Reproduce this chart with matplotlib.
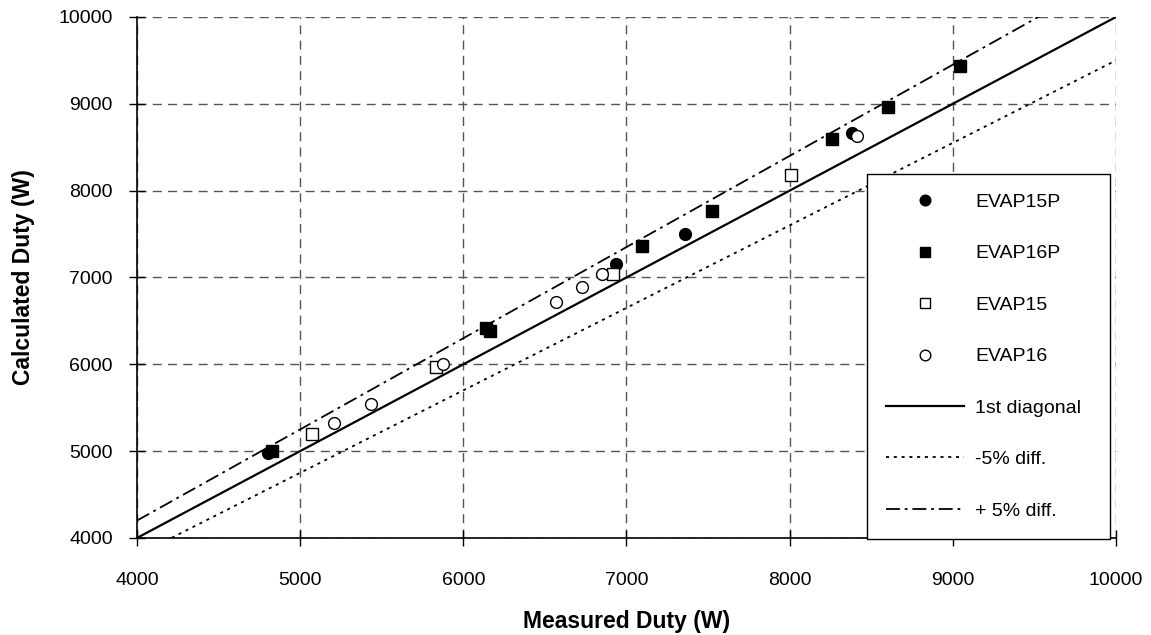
import numpy as np
import matplotlib
matplotlib.use("Agg")
import matplotlib.pyplot as plt

plt.rcParams['font.family'] = ['Liberation Sans', 'DejaVu Sans']
plt.rcParams['lines.scale_dashes'] = False

# measured vs calculated duty (W) for each evaporator run
evap15p_meas = [4800, 6935, 7360, 8380]
evap15p_calc = [4980, 7150, 7500, 8660]

evap16p_meas = [4830, 6140, 6165, 7095, 7525, 8260, 8605, 9045]
evap16p_calc = [5000, 6420, 6385, 7365, 7765, 8595, 8960, 9435]

evap15_meas = [5075, 5830, 6915, 8010]
evap15_calc = [5195, 5970, 7045, 8180]

evap16_meas = [5210, 5435, 5875, 6565, 6725, 6850, 8410]
evap16_calc = [5320, 5540, 6005, 6715, 6885, 7035, 8630]

# reference lines
diag_x = [4000, 10000]
tol = 0.05

fig = plt.figure(figsize=(11.51, 6.35), dpi=100)
ax = fig.add_axes([0.119, 0.1528, 0.8506, 0.8205])

ax.plot(evap15p_meas, evap15p_calc, 'o', color='black', markersize=8.5,
        label='EVAP15P', zorder=3)
ax.plot(evap16p_meas, evap16p_calc, 's', color='black', markersize=8,
        label='EVAP16P', zorder=3)
ax.plot(evap15_meas, evap15_calc, 's', mfc='white', mec='black', mew=1,
        markersize=8, label='EVAP15', zorder=3)
ax.plot(evap16_meas, evap16_calc, 'o', mfc='white', mec='black', mew=1,
        markersize=8.5, label='EVAP16', zorder=3)

xs = np.array(diag_x, dtype=float)
ax.plot(xs, xs, '-', color='black', lw=1.6, label='1st diagonal', zorder=2)
ax.plot(xs, xs * (1 - tol), color='black', lw=1.3, linestyle=(0, (2.2, 3.4)),
        label='-5% diff.', zorder=2)
ax.plot(xs, xs * (1 + tol), color='black', lw=1.3,
        linestyle=(0, (10, 3.5, 2, 3.5)), label='+ 5% diff.', zorder=2)

ax.set_xlim(4000, 10000)
ax.set_ylim(4000, 10000)
ax.set_xticks(np.arange(4000, 10001, 1000))
ax.set_yticks(np.arange(4000, 10001, 1000))

ax.grid(True, color='#555555', linestyle=(0, (6.5, 4.5)), lw=1)
ax.spines['top'].set_visible(False)
ax.spines['right'].set_visible(False)
ax.spines['left'].set_linewidth(1.2)
ax.spines['bottom'].set_linewidth(1.2)

ax.tick_params(axis='y', direction='inout', length=11, width=1,
               labelsize=14, pad=12)
ax.tick_params(axis='x', direction='inout', length=11, width=1,
               labelsize=14, pad=19)

ax.set_xlabel('Measured Duty (W)', fontsize=16.5, fontweight='bold', labelpad=15)
ax.set_ylabel('Calculated Duty (W)', fontsize=16.5, fontweight='bold', labelpad=17)

leg = ax.legend(loc='upper left', bbox_to_anchor=(0.7457, 0.0, 0.248, 0.6987),
                mode='expand', borderaxespad=0, fancybox=False,
                edgecolor='black', framealpha=1, fontsize=14,
                handlelength=4.0, handletextpad=0.55, labelspacing=1.74,
                borderpad=1.0, markerscale=0.9)
leg.get_frame().set_linewidth(1)
leg.set_zorder(5)

fig.savefig('out.png', dpi=100)
